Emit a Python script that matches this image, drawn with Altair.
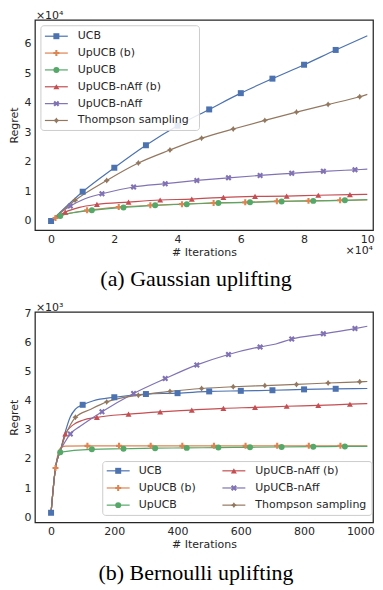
import altair as alt
import pandas as pd

SERIES = ["UCB", "UpUCB (b)", "UpUCB", "UpUCB-nAff (b)", "UpUCB-nAff", "Thompson sampling"]
COLORS = ["#4C72B0", "#DD8452", "#55A868", "#C44E52", "#8172B3", "#937860"]
PLUS_PATH = "M-0.35,-1L0.35,-1L0.35,-0.35L1,-0.35L1,0.35L0.35,0.35L0.35,1L-0.35,1L-0.35,0.35L-1,0.35L-1,-0.35L-0.35,-0.35Z"
X_PATH = "M-1,-0.5L-0.5,-1L0,-0.5L0.5,-1L1,-0.5L0.5,0L1,0.5L0.5,1L0,0.5L-0.5,1L-1,0.5L-0.5,0Z"
STAR_PATH = "M0,-1L0.4,-0.4L1,0L0.4,0.4L0,1L-0.4,0.4L-1,0L-0.4,-0.4Z"
SHAPES = ["square", PLUS_PATH, "circle", "triangle-up", X_PATH, STAR_PATH]

# ---------------- (a) Gaussian uplifting  (x: 1e4 iterations, y: 1e4 regret)
g_ucb_x = [0, 1, 2, 3, 4, 5, 6, 7, 8, 9, 10]
g_ucb_y = [0, 0.99, 1.80, 2.56, 3.22, 3.77, 4.32, 4.81, 5.28, 5.78, 6.26]
g_ucb_e = [0, 0.02, 0.03, 0.05, 0.06, 0.07, 0.08, 0.09, 0.10, 0.11, 0.12]
g_ucb_m = [1, 1, 1, 1, 1, 1, 1, 1, 1, 1, 0]

g_upb_x = [0, 0.14, 0.5, 1.14, 2.14, 3.14, 4.14, 5.14, 6.14, 7.14, 8.14, 9.14, 10]
g_upb_y = [0, 0.10, 0.24, 0.36, 0.47, 0.53, 0.57, 0.61, 0.63, 0.67, 0.68, 0.70, 0.71]
g_upb_e = [0, 0.01, 0.01, 0.01, 0.01, 0.01, 0.01, 0.01, 0.01, 0.01, 0.01, 0.01, 0.01]
g_upb_m = [0, 1, 0, 1, 1, 1, 1, 1, 1, 1, 1, 1, 0]

g_up_x = [0, 0.29, 0.7, 1.29, 2.29, 3.29, 4.29, 5.29, 6.29, 7.29, 8.29, 9.29, 10]
g_up_y = [0, 0.17, 0.28, 0.36, 0.46, 0.53, 0.57, 0.61, 0.63, 0.66, 0.68, 0.70, 0.72]
g_up_e = [0, 0.01, 0.01, 0.015, 0.015, 0.015, 0.015, 0.015, 0.015, 0.015, 0.015, 0.015, 0.015]
g_up_m = [0, 1, 0, 1, 1, 1, 1, 1, 1, 1, 1, 1, 0]

g_nab_x = [0, 0.45, 0.9, 1.45, 2.45, 3.45, 4.45, 5.45, 6.45, 7.45, 8.45, 9.45, 10]
g_nab_y = [0, 0.30, 0.46, 0.56, 0.64, 0.71, 0.74, 0.80, 0.83, 0.84, 0.87, 0.89, 0.90]
g_nab_e = [0, 0.01, 0.015, 0.02, 0.02, 0.02, 0.025, 0.025, 0.025, 0.03, 0.03, 0.03, 0.03]
g_nab_m = [0, 1, 0, 1, 1, 1, 1, 1, 1, 1, 1, 1, 0]

g_na_x = [0, 0.25, 0.61, 1.0, 1.61, 2.61, 3.61, 4.61, 5.61, 6.61, 7.61, 8.61, 9.61, 10]
g_na_y = [0, 0.24, 0.51, 0.72, 0.92, 1.15, 1.26, 1.37, 1.46, 1.54, 1.61, 1.68, 1.73, 1.75]
g_na_e = [0, 0.01, 0.015, 0.02, 0.02, 0.025, 0.03, 0.03, 0.035, 0.035, 0.04, 0.04, 0.045, 0.045]
g_na_m = [0, 0, 1, 0, 1, 1, 1, 1, 1, 1, 1, 1, 1, 0]

g_ts_x = [0, 0.76, 1.76, 2.76, 3.76, 4.76, 5.76, 6.76, 7.76, 8.76, 9.76, 10]
g_ts_y = [0, 0.70, 1.37, 1.96, 2.40, 2.80, 3.11, 3.40, 3.68, 3.94, 4.20, 4.28]
g_ts_e = [0, 0.03, 0.06, 0.09, 0.11, 0.14, 0.16, 0.18, 0.20, 0.22, 0.24, 0.25]
g_ts_m = [0, 1, 1, 1, 1, 1, 1, 1, 1, 1, 1, 0]

# ---------------- (b) Bernoulli uplifting  (x: iterations, y: 1e3 regret)
b_ucb_x = [0, 14, 30, 45, 61, 77, 100, 134, 200, 300, 400, 500, 600, 700, 800, 900, 1000]
b_ucb_y = [0.15, 1.69, 2.30, 2.93, 3.45, 3.71, 3.86, 4.00, 4.12, 4.23, 4.26, 4.32, 4.34, 4.36, 4.39, 4.41, 4.42]
b_ucb_e = [0, 0.01, 0.02, 0.03, 0.04, 0.04, 0.04, 0.04, 0.04, 0.04, 0.04, 0.045, 0.045, 0.05, 0.05, 0.05, 0.05]
b_ucb_m = [1, 0, 0, 0, 0, 0, 1, 0, 1, 1, 1, 1, 1, 1, 1, 1, 0]

b_upb_x = [0, 14, 30, 45, 115, 215, 315, 415, 515, 615, 715, 815, 915, 1000]
b_upb_y = [0.15, 1.69, 2.38, 2.44, 2.45, 2.45, 2.45, 2.45, 2.45, 2.45, 2.45, 2.45, 2.45, 2.45]
b_upb_e = [0, 0.01, 0.01, 0.01, 0.01, 0.01, 0.01, 0.01, 0.01, 0.01, 0.01, 0.01, 0.01, 0.01]
b_upb_m = [0, 1, 0, 0, 1, 1, 1, 1, 1, 1, 1, 1, 1, 0]

b_up_x = [0, 14, 29, 129, 229, 329, 429, 529, 629, 729, 829, 929, 1000]
b_up_y = [0.15, 1.69, 2.23, 2.33, 2.35, 2.37, 2.38, 2.39, 2.40, 2.41, 2.42, 2.43, 2.43]
b_up_e = [0, 0.01, 0.04, 0.04, 0.03, 0.03, 0.03, 0.03, 0.03, 0.03, 0.03, 0.03, 0.03]
b_up_m = [0, 0, 1, 1, 1, 1, 1, 1, 1, 1, 1, 1, 0]

b_nab_x = [0, 14, 30, 45, 71, 100, 145, 245, 345, 445, 545, 645, 745, 845, 945, 1000]
b_nab_y = [0.15, 1.69, 2.30, 2.86, 3.18, 3.33, 3.43, 3.54, 3.62, 3.68, 3.74, 3.77, 3.81, 3.84, 3.88, 3.90]
b_nab_e = [0, 0.01, 0.03, 0.05, 0.07, 0.08, 0.09, 0.11, 0.13, 0.15, 0.17, 0.19, 0.21, 0.22, 0.24, 0.25]
b_nab_m = [0, 0, 0, 1, 0, 0, 1, 1, 1, 1, 1, 1, 1, 1, 1, 0]

b_na_x = [0, 14, 30, 45, 61, 92, 161, 261, 361, 461, 561, 661, 711, 761, 861, 961, 1000]
b_na_y = [0.15, 1.69, 2.30, 2.60, 2.86, 3.12, 3.62, 4.25, 4.76, 5.23, 5.59, 5.85, 5.95, 6.12, 6.30, 6.48, 6.56]
b_na_e = [0, 0.01, 0.02, 0.03, 0.03, 0.04, 0.05, 0.07, 0.09, 0.10, 0.11, 0.12, 0.13, 0.13, 0.14, 0.15, 0.16]
b_na_m = [0, 0, 0, 0, 1, 0, 1, 1, 1, 1, 1, 1, 0, 1, 1, 1, 0]

b_ts_x = [0, 14, 30, 45, 60, 77, 124, 176, 276, 376, 476, 576, 676, 776, 876, 976, 1000]
b_ts_y = [0.15, 1.69, 2.30, 2.80, 3.15, 3.43, 3.70, 3.96, 4.19, 4.32, 4.42, 4.48, 4.52, 4.56, 4.61, 4.65, 4.66]
b_ts_e = [0, 0.01, 0.03, 0.04, 0.05, 0.06, 0.08, 0.10, 0.13, 0.15, 0.17, 0.19, 0.20, 0.21, 0.22, 0.23, 0.24]
b_ts_m = [0, 0, 0, 0, 0, 1, 0, 1, 1, 1, 1, 1, 1, 1, 1, 1, 0]

# legend layout (row / column of each entry)
TOP_LEG_ROW = [0, 1, 2, 3, 4, 5]
BOT_LEG_ROW = [0, 1, 2, 0, 1, 2]
BOT_LEG_COL = [0, 0, 0, 1, 1, 1]

G_DATA = [(g_ucb_x, g_ucb_y, g_ucb_e, g_ucb_m), (g_upb_x, g_upb_y, g_upb_e, g_upb_m),
          (g_up_x, g_up_y, g_up_e, g_up_m), (g_nab_x, g_nab_y, g_nab_e, g_nab_m),
          (g_na_x, g_na_y, g_na_e, g_na_m), (g_ts_x, g_ts_y, g_ts_e, g_ts_m)]
B_DATA = [(b_ucb_x, b_ucb_y, b_ucb_e, b_ucb_m), (b_upb_x, b_upb_y, b_upb_e, b_upb_m),
          (b_up_x, b_up_y, b_up_e, b_up_m), (b_nab_x, b_nab_y, b_nab_e, b_nab_m),
          (b_na_x, b_na_y, b_na_e, b_na_m), (b_ts_x, b_ts_y, b_ts_e, b_ts_m)]


def frame(groups):
    rows = []
    for name, (xs, ys, es, ms) in zip(SERIES, groups):
        for x, y, e, m in zip(xs, ys, es, ms):
            rows.append({"series": name, "x": x, "y": y, "lo": y - e, "hi": y + e, "m": m})
    return pd.DataFrame(rows)


TXT = "#262626"
FONT = "DejaVu Sans"
W, H = 339, 211
MS = 36
color = alt.Color("series:N", scale=alt.Scale(domain=SERIES, range=COLORS), legend=None)
shape = alt.Shape("series:N", scale=alt.Scale(domain=SERIES, range=SHAPES), legend=None)
order = alt.Order("x:Q")


def panel(df, xdom, xvals, last_off, ydom, yvals, exp_top, exp_right, caption, cap_y, legdf, legcfg):
    xs = alt.Scale(domain=xdom, nice=False, zero=False)
    xa = alt.Axis(values=xvals, title="# Iterations", labelFlush=False, format="d",
                  labelOffset={"condition": {"test": f"datum.value == {xvals[-1]}", "value": last_off},
                               "value": 0})
    ys = alt.Scale(domain=ydom, nice=False, zero=False)
    ya = alt.Axis(values=yvals, title="Regret")
    x = alt.X("x:Q", scale=xs, axis=xa)
    base = alt.Chart(df)
    band = base.mark_area(opacity=0.22, interpolate="monotone").encode(
        x=x, y=alt.Y("lo:Q", scale=ys, axis=ya), y2="hi:Q", color=color, order=order)
    line = base.mark_line(strokeWidth=1.2, interpolate="monotone").encode(
        x=x, y=alt.Y("y:Q", scale=ys, axis=ya), color=color, order=order)
    pts = base.transform_filter("datum.m == 1").mark_point(
        filled=True, size=MS, opacity=1, strokeWidth=0).encode(
        x=x, y=alt.Y("y:Q", scale=ys, axis=ya), color=color, shape=shape)
    ann = alt.Chart(pd.DataFrame({"a": [0]}))
    t1 = ann.mark_text(align="left", baseline="middle", font=FONT, fontSize=11, color=TXT).encode(
        x=alt.value(1), y=alt.value(-4), text=alt.value(exp_top))
    layers = [band, line, pts, t1]
    if exp_right:
        t2 = ann.mark_text(align="right", baseline="middle", font=FONT, fontSize=11, color=TXT).encode(
            x=alt.value(W), y=alt.value(H + 20.5), text=alt.value(exp_right))
        layers.append(t2)
    cap = ann.mark_text(align="center", baseline="middle", font="Liberation Serif", fontSize=22,
                        color="black").encode(x=alt.value(161.5), y=alt.value(cap_y), text=alt.value(caption))
    layers.append(cap)
    main = alt.layer(*layers)

    # legend
    bx0, bx1, by0, by1, r0, r1, nrows, cols = legcfg
    box = ann.mark_rect(fill="white", fillOpacity=0.85, stroke="#cccccc", strokeWidth=1,
                        cornerRadius=3).encode(x=alt.value(bx0), x2=alt.value(bx1),
                                               y=alt.value(by0), y2=alt.value(by1))
    ly = alt.Y("row:Q", scale=alt.Scale(domain=[0, nrows - 1], range=[r0, r1]), axis=None)
    leg_layers = [box]
    for ci, (lx0, lx1, lm, lt) in enumerate(cols):
        sub = alt.Chart(legdf).transform_filter(f"datum.col == {ci}")
        leg_layers.append(sub.mark_rule(strokeWidth=1.2).encode(
            x=alt.value(lx0), x2=alt.value(lx1), y=ly, color=color))
        leg_layers.append(sub.mark_point(filled=True, size=MS, opacity=1, strokeWidth=0).encode(
            x=alt.value(lm), y=ly, color=color, shape=shape))
        leg_layers.append(sub.mark_text(align="left", baseline="middle", font=FONT, fontSize=11,
                                        color=TXT).encode(x=alt.value(lt), y=ly, text="series:N"))
    legend = alt.layer(*leg_layers)
    return alt.layer(main, legend).resolve_scale(y="independent").properties(width=W, height=H)


top_leg = pd.DataFrame({"series": SERIES, "row": TOP_LEG_ROW, "col": [0] * 6})
bot_leg = pd.DataFrame({"series": SERIES, "row": BOT_LEG_ROW, "col": BOT_LEG_COL})

top = panel(frame(G_DATA), [-0.51, 10.18], [0, 2, 4, 6, 8, 10], 0, [-0.31, 6.8], [0, 1, 2, 3, 4, 5, 6],
            "×10⁴", "×10⁴", "(a) Gaussian uplifting", H + 49, top_leg,
            (6, 165, 6, 111, 16.5, 101, 6, [(10, 33, 21.5, 43)]))
bot = panel(frame(B_DATA), [-51, 1018], [0, 200, 400, 600, 800, 1000], -7, [-0.18, 7.05],
            [0, 1, 2, 3, 4, 5, 6, 7], "×10³", None, "(b) Bernoulli uplifting", H + 51, bot_leg,
            (68, 338, H - 61, H - 7, H - 51.7, H - 17.3, 3,
             [(72, 95, 83.5, 104), (188, 211, 199.5, 221)]))

chart = alt.vconcat(top, bot, spacing=10).properties(
    padding={"left": 0, "top": 0, "right": 0, "bottom": 0}
).configure_view(stroke=TXT, strokeWidth=1.25).configure_axis(
    domain=False, ticks=False, grid=False, labelFont=FONT, labelFontSize=11, labelColor=TXT,
    titleFont=FONT, titleFontSize=11, titleFontWeight="normal", titleColor=TXT
).configure_axisX(labelPadding=3, titlePadding=2).configure_axisY(labelPadding=4, titlePadding=4)

chart.save("out.html", embed_options={"renderer": "svg", "actions": False})
